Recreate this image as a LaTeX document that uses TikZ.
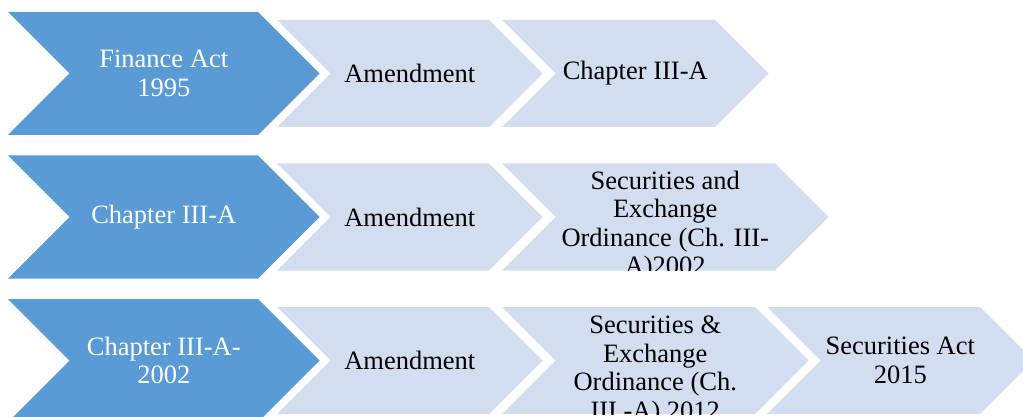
\documentclass[tikz,border=0pt]{standalone}
\usepackage{fontspec}
\setmainfont{Liberation Serif}
\definecolor{chevdark}{HTML}{5B9BD5}
\definecolor{chevlight}{HTML}{D2DEEF}

\begin{document}
\begin{tikzpicture}[x=1pt,y=-1pt,
  dark/.style={fill=chevdark},
  light/.style={fill=chevlight},
  lbl/.style={font=\fontsize{26.5}{28.5}\selectfont,align=center,inner sep=0pt},
  darklbl/.style={lbl,text=white}]
\useasboundingbox (0,0) rectangle (1023,417);

% first row
\fill[dark] (8,12) -- (258,12) -- (319.5,73.5) -- (258,135) -- (8,135) -- (69.5,73.5) -- cycle;
\fill[light] (277,20) -- (489,20) -- (542.5,73.5) -- (489,127) -- (277,127) -- (330.5,73.5) -- cycle;
\fill[light] (502,20) -- (715,20) -- (768.5,73.5) -- (715,127) -- (502,127) -- (555.5,73.5) -- cycle;
\node[darklbl] (fin) at (163.75,73.5) {Finance Act\\1995};
\node[lbl] (amdA) at (409.75,73.5) {Amendment};
\node[lbl] (chA) at (635.25,73.5) {Chapter III-A};

% second row
\fill[dark] (8,155.5) -- (258,155.5) -- (319.5,217) -- (258,278.5) -- (8,278.5) -- (69.5,217) -- cycle;
\fill[light] (277,163.5) -- (489,163.5) -- (542.5,217) -- (489,270.5) -- (277,270.5) -- (330.5,217) -- cycle;
\fill[light] (502,163.5) -- (775,163.5) -- (828.5,217) -- (775,270.5) -- (502,270.5) -- (555.5,217) -- cycle;
\node[darklbl] (chB) at (163.75,217) {Chapter III-A};
\node[lbl] (amdB) at (409.75,217) {Amendment};
\begin{scope}
\clip (502,163.5) -- (775,163.5) -- (828.5,217) -- (775,270.5) -- (502,270.5) -- (555.5,217) -- cycle;
\node[lbl] (ordB) at (665.25,225.5) {Securities and\\Exchange\\Ordinance (Ch. III-\\A)2002};
\end{scope}

% third row
\fill[dark] (8,299) -- (258,299) -- (319.5,360.5) -- (258,422) -- (8,422) -- (69.5,360.5) -- cycle;
\fill[light] (277,307) -- (489,307) -- (542.5,360.5) -- (489,414) -- (277,414) -- (330.5,360.5) -- cycle;
\fill[light] (502,307) -- (755,307) -- (808.5,360.5) -- (755,414) -- (502,414) -- (555.5,360.5) -- cycle;
\fill[light] (767,307) -- (980,307) -- (1033.5,360.5) -- (980,414) -- (767,414) -- (820.5,360.5) -- cycle;
\node[darklbl] (chC) at (163.75,360.5) {Chapter III-A-\\2002};
\node[lbl] (amdC) at (409.75,360.5) {Amendment};
\begin{scope}
\clip (502,307) -- (755,307) -- (808.5,360.5) -- (755,414) -- (502,414) -- (555.5,360.5) -- cycle;
\node[lbl] (ordC) at (655.25,370.5) {Securities \&\\Exchange\\Ordinance (Ch.\\III -A) 2012};
\end{scope}
\node[lbl] (act) at (900.25,360.5) {Securities Act\\2015};
\end{tikzpicture}
\end{document}
